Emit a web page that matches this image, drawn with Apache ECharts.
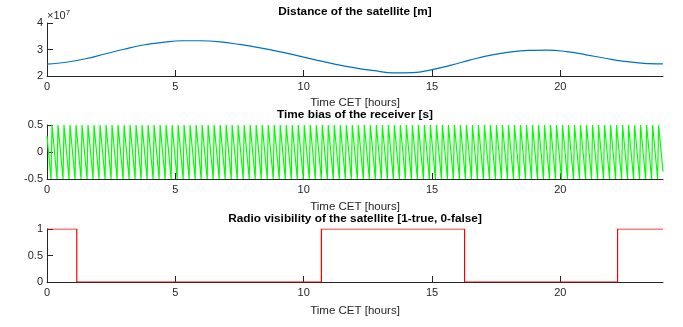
<!DOCTYPE html>
<html>
<head>
<meta charset="utf-8">
<script src="https://cdn.jsdelivr.net/npm/echarts@6/dist/echarts.min.js"></script>
<style>html,body{margin:0;padding:0;background:#fff}#c{width:683px;height:327px}</style>
</head>
<body>
<div id="c"></div>
<script>
// ---- data ----
const xTicks = [0, 5, 10, 15, 20];
const distHours = [0, 0.75, 1.5, 2.25, 3, 3.75, 4.5, 5.25, 6, 6.75, 7.5, 8.25, 9, 9.75, 10.5, 11.25, 12, 12.75, 13.5, 14.25, 15, 15.75, 16.5, 17.25, 18, 18.75, 19.5, 20.25, 21, 21.75, 22.5, 23.25, 24];
const distMeters = [2.45e7, 2.52e7, 2.65e7, 2.83e7, 3.01e7, 3.17e7, 3.27e7, 3.33e7, 3.33e7, 3.29e7, 3.19e7, 3.07e7, 2.93e7, 2.77e7, 2.60e7, 2.44e7, 2.31e7, 2.20e7, 2.12e7, 2.13e7, 2.24e7, 2.41e7, 2.61e7, 2.78e7, 2.90e7, 2.97e7, 2.98e7, 2.92e7, 2.80e7, 2.67e7, 2.55e7, 2.48e7, 2.46e7];
// time bias: start value, hours of each wrap peak (+0.5), rise duration before each peak (from -0.5), end value
const biasStart = [0, 0.3];
const biasPeakHours = [0.195,0.429,0.663,0.897,1.131,1.365,1.599,1.833,2.067,2.301,2.535,2.769,3.003,3.237,3.471,3.705,3.939,4.173,4.407,4.641,4.875,5.109,5.343,5.577,5.811,6.045,6.279,6.513,6.747,6.981,7.215,7.449,7.683,7.917,8.151,8.385,8.619,8.853,9.087,9.321,9.555,9.789,10.023,10.257,10.491,10.725,10.959,11.193,11.427,11.661,11.895,12.129,12.363,12.597,12.831,13.065,13.299,13.533,13.767,14.001,14.235,14.469,14.703,14.937,15.171,15.405,15.639,15.873,16.107,16.341,16.575,16.809,17.043,17.277,17.511,17.745,17.979,18.213,18.447,18.681,18.915,19.149,19.383,19.617,19.851,20.085,20.319,20.553,20.787,21.021,21.255,21.489,21.723,21.957,22.191,22.425,22.659,22.893,23.127,23.361,23.595,23.829];
const biasRiseHours = 0.039;
const biasEnd = [24, -0.36];
const visHours = [0, 1.16, 10.69, 16.27, 22.23, 24];
const visValues = [1, 0, 1, 0, 1, 1];

// ---- build series data ----
const distData = distHours.map((h, i) => [h, distMeters[i]]);
const biasData = [biasStart];
biasPeakHours.forEach(h => { biasData.push([h - biasRiseHours, -0.5]); biasData.push([h, 0.5]); });
biasData.push(biasEnd);
const visData = visHours.map((h, i) => [h, visValues[i]]);

const FONT = 'Liberation Sans, Arial, Helvetica, sans-serif';
const AX = '#262626';
function xAxis(gi, gap) {
  return {
    type: 'value', gridIndex: gi, min: 0, max: 24,
    name: 'Time CET [hours]', nameLocation: 'middle', nameGap: gap,
    nameTextStyle: { color: AX, fontSize: 11.5, fontFamily: FONT },
    axisLine: { show: true, onZero: false, lineStyle: { color: AX, width: 1 } },
    axisTick: { show: true, inside: true, length: 6, customValues: xTicks, lineStyle: { color: AX } },
    axisLabel: { color: AX, fontSize: 11, fontFamily: FONT, margin: 5, customValues: xTicks },
    splitLine: { show: false }
  };
}
function yAxis(gi, min, max, interval, fmt) {
  return {
    type: 'value', gridIndex: gi, min: min, max: max, interval: interval,
    axisLine: { show: true, onZero: false, lineStyle: { color: AX, width: 1 } },
    axisTick: { show: true, inside: true, length: 6, lineStyle: { color: AX } },
    axisLabel: { color: AX, fontSize: 11, fontFamily: FONT, margin: 4, formatter: fmt },
    splitLine: { show: false }
  };
}
function title(text, top) {
  return { text: text, left: 355, top: top, textAlign: 'center',
    textStyle: { fontSize: 11.8, fontWeight: 'bold', color: '#000', fontFamily: FONT }, padding: 0 };
}

const chart = echarts.init(document.getElementById('c'), null, { renderer: 'canvas' });
chart.setOption({
  animation: false,
  backgroundColor: '#fff',
  title: [
    title('Distance of the satellite [m]', 6),
    title('Time bias of the receiver [s]', 109),
    title('Radio visibility of the satellite [1-true, 0-false]', 213)
  ],
  grid: [
    { left: 47, right: 20, top: 23, height: 53 },
    { left: 47, right: 20, top: 125, height: 54 },
    { left: 47, right: 20, top: 229, height: 53 }
  ],
  xAxis: [xAxis(0, 21), xAxis(1, 22), xAxis(2, 23)],
  yAxis: [
    yAxis(0, 2e7, 4e7, 1e7, v => String(Math.round(v / 1e7))),
    yAxis(1, -0.5, 0.5, 0.5, v => String(v)),
    yAxis(2, 0, 1, 0.5, v => String(v))
  ],
  graphic: [{
    type: 'text', left: 47, top: 9,
    style: { text: '×10{s|7}', rich: { s: { fontSize: 8, verticalAlign: 'top', padding: [0, 0, 6, 0], fill: AX, fontFamily: FONT } },
      fontSize: 11, fill: AX, fontFamily: FONT }
  }],
  series: [
    { type: 'line', xAxisIndex: 0, yAxisIndex: 0, data: distData, smooth: 0.4, showSymbol: false,
      lineStyle: { color: '#0072BD', width: 1.2 } },
    { type: 'line', xAxisIndex: 1, yAxisIndex: 1, data: biasData, showSymbol: false,
      lineStyle: { color: '#00FF00', width: 1.2 } },
    { type: 'line', xAxisIndex: 2, yAxisIndex: 2, data: visData, step: 'end', showSymbol: false,
      lineStyle: { color: '#FF0000', width: 1.2 } }
  ]
});
</script>
</body>
</html>
